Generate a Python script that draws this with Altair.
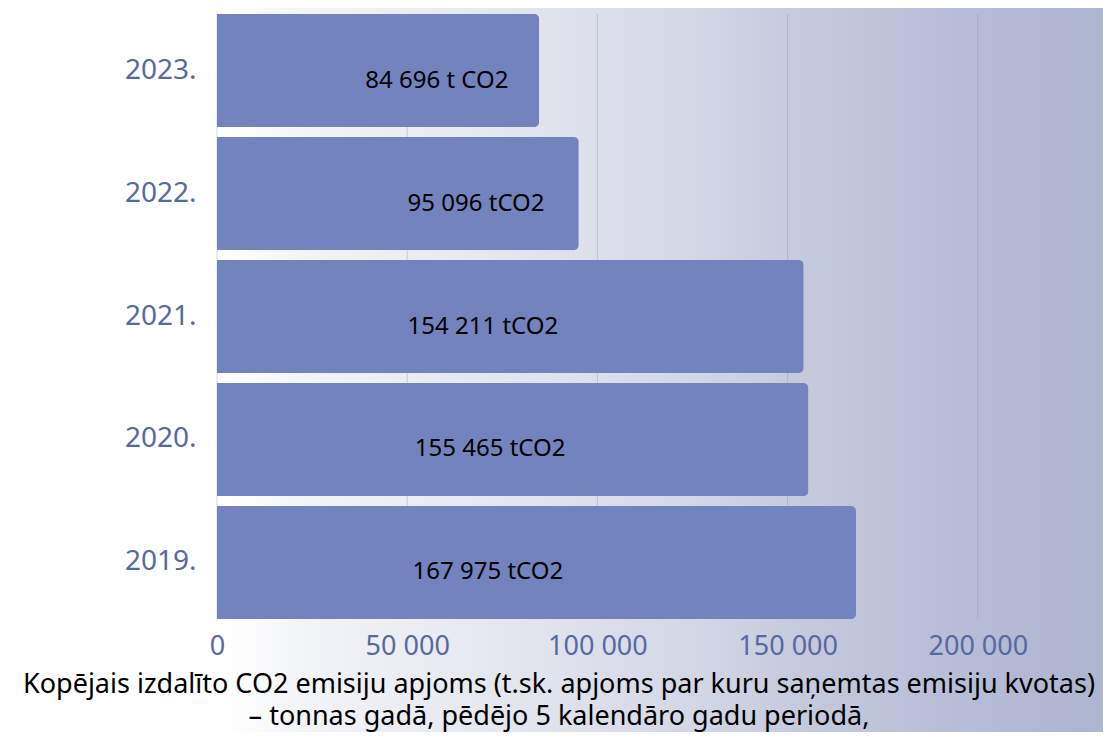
import altair as alt
import pandas as pd

# ---- data ----
years = ["2023.", "2022.", "2021.", "2020.", "2019."]
emissions = [84696, 95096, 154211, 155465, 167975]
bar_labels = ["84 696 t CO2", "95 096 tCO2", "154 211 tCO2", "155 465 tCO2", "167 975 tCO2"]
label_anchor_t = [57800, 68100, 69900, 71800, 71200]   # where each label sits, in tonnes
tick_values = [0, 50000, 100000, 150000, 200000]
title_lines = [
    "Kopējais izdalīto CO2 emisiju apjoms (t.sk. apjoms par kuru saņemtas emisiju kvotas)",
    "– tonnas gadā, pēdējo 5 kalendāro gadu periodā,",
]

df = pd.DataFrame({"year": years, "value": emissions, "label": bar_labels, "anchor": label_anchor_t})
grid_df = pd.DataFrame({"tick": tick_values})

# ---- layout ----
W, H = 886, 605
PAD_L, PAD_T = 209, 6
TOTAL_H = 724
PAD_B = TOTAL_H - PAD_T - H

FONT = "Noto Sans"
BAR = "#7383bd"
AXIS_TXT = "#5868a2"

x_scale = alt.Scale(domain=[0, 232900], nice=False, zero=True)
y_scale = alt.Scale(domain=years, paddingInner=0.081, paddingOuter=0)

x_axis = alt.Axis(
    values=tick_values, labelExpr="replace(format(datum.value, ','), ',', ' ')",
    grid=False, ticks=False, tickSize=0, domain=False, title=None, labelFlush=False,
    labelFont=FONT, labelFontSize=27, labelColor=AXIS_TXT, labelPadding=14, zindex=2,
)
y_axis = alt.Axis(
    grid=False, ticks=False, tickSize=0, domain=False, title=None,
    labelFont=FONT, labelFontSize=28, labelColor=AXIS_TXT, labelPadding=21, zindex=2,
)

bg = alt.Chart(alt.Data(values=[{"a": 1}])).mark_rect(
    fill=alt.Gradient(
        gradient="linear", x1=0, y1=0, x2=1, y2=0,
        stops=[
            alt.GradientStop(offset=0.0, color="#ffffff"),
            alt.GradientStop(offset=0.2, color="#ffffff"),
            alt.GradientStop(offset=0.27, color="#f3f4f8"),
            alt.GradientStop(offset=0.45, color="#e5e7ef"),
            alt.GradientStop(offset=0.63, color="#d3d6e5"),
            alt.GradientStop(offset=0.72, color="#c6cadd"),
            alt.GradientStop(offset=0.9, color="#b5bad6"),
            alt.GradientStop(offset=1.0, color="#aeb5d1"),
        ],
    )
).encode(
    x=alt.value(-PAD_L), x2=alt.value(W),
    y=alt.value(-PAD_T), y2=alt.value(TOTAL_H - PAD_T),
)

grid = alt.Chart(grid_df).mark_rule(stroke="#6a78a8", strokeOpacity=0.28, strokeWidth=1).encode(
    x=alt.X("tick:Q", scale=x_scale, axis=x_axis)
)

bars = alt.Chart(df).mark_bar(color=BAR, cornerRadiusEnd=5).encode(
    x=alt.X("value:Q", scale=x_scale, axis=x_axis),
    y=alt.Y("year:N", scale=y_scale, sort=years, axis=y_axis),
)

texts = alt.Chart(df).mark_text(font=FONT, fontSize=24, color="#000000", dy=10).encode(
    x=alt.X("anchor:Q", scale=x_scale, axis=x_axis),
    y=alt.Y("year:N", scale=y_scale, sort=years, axis=y_axis),
    text="label:N",
)

chart = alt.layer(bg, grid, bars, texts).properties(
    width=W, height=H,
    background="#ffffff",
    padding={"left": PAD_L, "top": PAD_T, "right": 0, "bottom": PAD_B},
    autosize=alt.AutoSizeParams(type="none"),
    title=alt.TitleParams(
        text=title_lines, orient="bottom", anchor="middle", frame="group",
        font=FONT, fontSize=27, fontWeight="normal", color="#000000",
        lineHeight=32, offset=-60, dx=-101, zindex=2,
    ),
).configure_view(stroke=None)

chart.save("out.html", embed_options={"renderer": "svg", "actions": False})
